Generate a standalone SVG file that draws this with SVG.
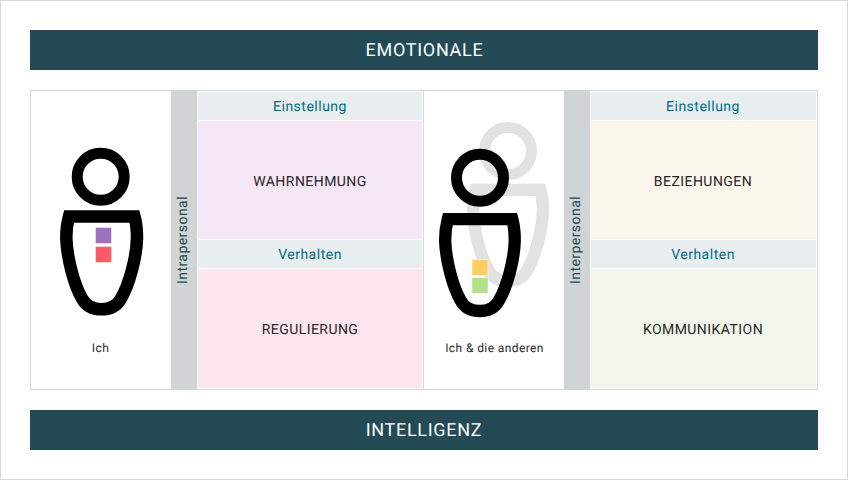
<svg xmlns="http://www.w3.org/2000/svg" width="848" height="480" viewBox="0 0 848 480">
<style>
text{font-family:Roboto,"Liberation Sans",sans-serif;text-anchor:middle;text-rendering:geometricPrecision}
.banner{fill:#234a55}
.bt{fill:#fff;font-size:18px;letter-spacing:.7px}
.hd{fill:#e8edf0}
.ht{fill:#006e87;font-size:14px;letter-spacing:.5px}
.ct{fill:#2a2525;font-size:14px;letter-spacing:.45px}
.cap{fill:#2a2a2a;font-size:12px;letter-spacing:.4px}
.side{fill:#d0d4d4}
.st{fill:#234a55;font-size:14px;letter-spacing:.45px}
.sq{stroke:#fff;stroke-opacity:.45;stroke-width:1}
.head{fill:none;stroke-width:11}
.body{fill:none;stroke-width:12.5;stroke-linejoin:miter}
</style>
<defs>
<path id="torso" d="M69 216.500H134.500C136 222 137 230 137 238C136.500 258 129 285 121 298.500C117 306 110 309.300 101.500 309.300C93 309.300 86 306 82 298.500C74 285 67 258 66.300 238C66.300 230 67.500 222 69 216.500Z"/>
</defs>
<rect x="0.500" y="0.500" width="847" height="479" fill="#fff" stroke="#d8dada"/>
<g id="banner-top"><rect class="banner" x="30" y="30" width="788" height="40"/><text class="bt" x="424.500" y="56">EMOTIONALE</text></g>
<g id="banner-bottom"><rect class="banner" x="30" y="410" width="788" height="40"/><text class="bt" x="424" y="436">INTELLIGENZ</text></g>
<rect id="frame" x="30.500" y="90.500" width="787" height="299" fill="#fff" stroke="#d4d7d7"/>
<g id="person-ich">
<circle class="head" cx="100.700" cy="176.700" r="23.500" stroke="#000"/>
<use href="#torso" class="body" stroke="#000"/>
<rect class="sq" x="95.500" y="227.500" width="16" height="16" fill="#9d72bd"/>
<rect class="sq" x="95.500" y="246.500" width="16" height="16" fill="#ff5a65"/>
<text class="cap" x="100.500" y="352">Ich</text>
</g>
<g id="person-andere">
<circle class="head" cx="508" cy="151" r="23.500" stroke="#e2e2e2"/>
<use href="#torso" class="body" stroke="#e2e2e2" transform="translate(508 183.700) scale(.988 .983) translate(-101.700 -210.300)"/>
<circle class="head" cx="480" cy="177.700" r="23.500" stroke="#000"/>
<use href="#torso" class="body" stroke="#000" transform="translate(480 213) scale(.985 .99) translate(-101.700 -210.300)"/>
<rect class="sq" x="472" y="259.500" width="16" height="16" fill="#ffcf66"/>
<rect class="sq" x="472" y="277.500" width="16" height="16" fill="#b5e08a"/>
<text class="cap" x="494.500" y="352">Ich &amp; die anderen</text>
</g>
<g id="side-intra"><rect class="side" x="171" y="91" width="26" height="298"/><text class="st" transform="translate(187 240) rotate(-90)">Intrapersonal</text></g>
<g id="side-inter"><rect class="side" x="564" y="91" width="26" height="298"/><text class="st" transform="translate(580 240) rotate(-90)">Interpersonal</text></g>
<g id="head-l1"><rect class="hd" x="198" y="92" width="224" height="28"/><text class="ht" x="310" y="111">Einstellung</text></g>
<g id="wahrnehmung"><rect x="198" y="121" width="224" height="118" fill="#f5e7f6"/><text class="ct" x="310" y="186">WAHRNEHMUNG</text></g>
<g id="head-l2"><rect class="hd" x="198" y="240" width="224" height="28"/><text class="ht" x="310" y="259">Verhalten</text></g>
<g id="regulierung"><rect x="198" y="269" width="224" height="119" fill="#fbe6ee"/><text class="ct" x="310" y="334">REGULIERUNG</text></g>
<line id="divider" x1="423.500" y1="90" x2="423.500" y2="390" stroke="#d4d7d7"/>
<g id="head-r1"><rect class="hd" x="591" y="92" width="225" height="28"/><text class="ht" x="703" y="111">Einstellung</text></g>
<g id="beziehungen"><rect x="591" y="121" width="225" height="118" fill="#fbf7ec"/><text class="ct" x="703" y="186">BEZIEHUNGEN</text></g>
<g id="head-r2"><rect class="hd" x="591" y="240" width="225" height="28"/><text class="ht" x="703" y="259">Verhalten</text></g>
<g id="kommunikation"><rect x="591" y="269" width="225" height="119" fill="#f1f6ec"/><text class="ct" x="703" y="334">KOMMUNIKATION</text></g>
</svg>
